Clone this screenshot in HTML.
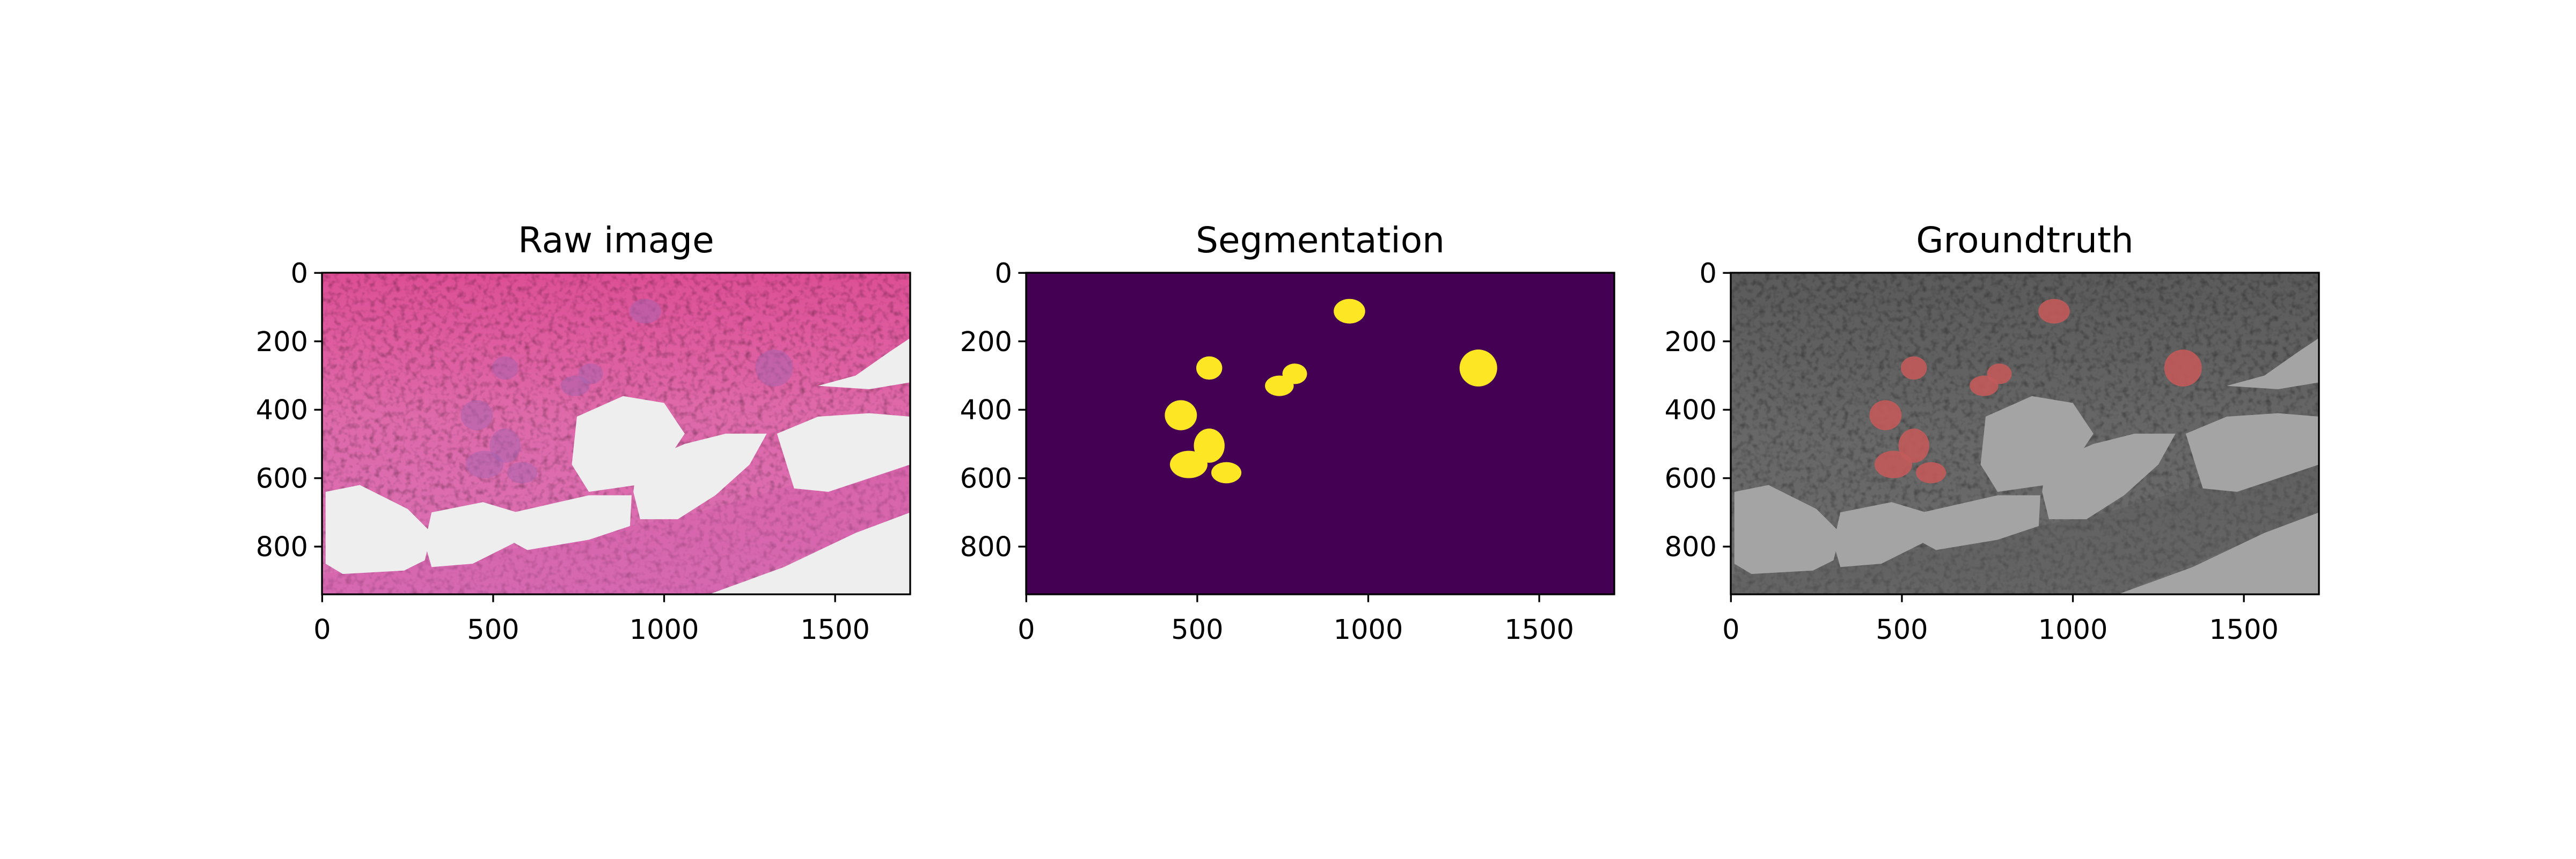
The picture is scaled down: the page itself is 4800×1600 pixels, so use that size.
<!DOCTYPE html>
<html><head><meta charset="utf-8"><style>
html,body{margin:0;padding:0;background:#fff;}
svg{display:block;}
text{font-family:"DejaVu Sans","Liberation Sans",sans-serif;fill:#000;}
</style></head><body>
<svg id="fig" width="4800" height="1600" viewBox="0 0 4800 1600" xmlns="http://www.w3.org/2000/svg">
<defs>
<filter id="tex" x="0" y="0" width="1" height="1">
<feTurbulence type="fractalNoise" baseFrequency="0.09" numOctaves="2" seed="3" result="n"/>
<feColorMatrix in="n" type="matrix" values="0 0 0 0 0  0 0 0 0 0  0 0 0 0 0  0 0 0 1.2 -0.55" result="a"/>
<feComposite in="a" in2="SourceGraphic" operator="in" result="m"/>
<feMerge><feMergeNode in="SourceGraphic"/><feMergeNode in="m"/></feMerge>
</filter>
<linearGradient id="rawGrad" x1="0" y1="0" x2="0" y2="1">
<stop offset="0" stop-color="#dd4f95"/><stop offset="0.45" stop-color="#de6aaa"/><stop offset="1" stop-color="#d870b4"/>
</linearGradient>
<linearGradient id="grayGrad" x1="0" y1="0" x2="0" y2="1">
<stop offset="0" stop-color="#5a5a5a"/><stop offset="0.45" stop-color="#666"/><stop offset="1" stop-color="#6c6c6c"/>
</linearGradient>
<clipPath id="clip0"><rect x="600" y="508" width="1096" height="599"/></clipPath>
<clipPath id="clip1"><rect x="1912" y="508" width="1096" height="599"/></clipPath>
<clipPath id="clip2"><rect x="3225" y="508" width="1096" height="599"/></clipPath>
</defs>
</svg>
<script>
// image extent (pixels of source image)
const imgW = 1720, imgH = 940;
const xTicks = [0, 500, 1000, 1500];
const yTicks = [0, 200, 400, 600, 800];
const titles = ["Raw image", "Segmentation", "Groundtruth"];
// segmentation blobs: centre x, centre y, radius x, radius y (image pixels)
const blobCx = [945, 535, 740, 785, 1322, 452, 535, 475, 585];
const blobCy = [112, 278, 330, 295, 278, 416, 505, 560, 584];
const blobRx = [46, 38, 42, 36, 55, 47, 45, 55, 44];
const blobRy = [36, 34, 30, 30, 54, 44, 50, 40, 31];
// lumen (empty space) polygons, image pixel coords
const lumens = [
 [[10,640],[110,620],[250,690],[320,760],[300,840],[240,870],[60,880],[10,850]],
 [[320,700],[470,670],[570,700],[560,790],[440,850],[320,860],[300,790]],
 [[560,700],[780,650],[905,650],[900,740],[780,780],[600,810],[545,780]],
 [[745,420],[880,360],[1000,380],[1060,470],[1000,560],[920,620],[780,640],[730,560]],
 [[920,560],[1060,500],[1180,470],[1300,470],[1250,560],[1150,650],[1040,720],[930,720],[910,640]],
 [[1330,470],[1450,420],[1600,410],[1720,420],[1720,560],[1600,600],[1480,640],[1380,630]],
 [[1450,330],[1560,300],[1660,230],[1720,190],[1720,320],[1600,340]],
 [[1130,940],[1350,860],[1560,760],[1720,700],[1720,940]]
];
const axLeft = [600, 1912, 3225], axTop = 508, axW = 1096, axH = 599;
const NS = "http://www.w3.org/2000/svg";
const fig = document.getElementById('fig');
function mk(tag, attrs, parent){const e=document.createElementNS(NS,tag);for(const k in attrs)e.setAttribute(k,attrs[k]);(parent||fig).appendChild(e);return e;}
function sx(i,v){return axLeft[i] + (v+0.5)*axW/imgW;}
function sy(v){return axTop + (v+0.5)*axH/imgH;}
function poly(i,pts){return pts.map(p=>sx(i,p[0]).toFixed(1)+","+sy(p[1]).toFixed(1)).join(" ");}

for (let i=0;i<3;i++){
  const g = mk('g',{});
  
  
  const img = mk('g',{'clip-path':'url(#clip'+i+')'},g);
  
  
  if (i===1){
    mk('rect',{x:axLeft[i],y:axTop,width:axW,height:axH,fill:'#440154'},img);
    for (let b=0;b<blobCx.length;b++){
      const e = mk('ellipse',{cx:sx(i,blobCx[b]),cy:sy(blobCy[b]),rx:blobRx[b]*axW/imgW,ry:blobRy[b]*axH/imgH,fill:'#fde725'},img);
      
      
    }
  } else {
    const raw = i===0;
    mk('rect',{x:axLeft[i],y:axTop,width:axW,height:axH,fill:raw?'url(#rawGrad)':'url(#grayGrad)',filter:'url(#tex)'},img);
    // stroma band lower right
    mk('polygon',{points:poly(i,[[0,940],[0,880],[600,800],[1100,700],[1720,520],[1720,700],[1130,940]]),fill:raw?'#d25aa8':'#555',opacity:0.35},img);
    for (const L of lumens){
      const p = mk('polygon',{points:poly(i,L),fill:raw?'#eeeeee':'#a4a4a4'},img);
      
      
    }
    if (!raw){
      for (let b=0;b<blobCx.length;b++){
        const e = mk('ellipse',{cx:sx(i,blobCx[b]),cy:sy(blobCy[b]),rx:blobRx[b]*axW/imgW,ry:blobRy[b]*axH/imgH,fill:'#c25a5a',opacity:0.9},img);
        
        
      }
    } else {
      for (let b=0;b<blobCx.length;b++){
        mk('ellipse',{cx:sx(i,blobCx[b]),cy:sy(blobCy[b]),rx:blobRx[b]*axW/imgW,ry:blobRy[b]*axH/imgH,fill:'#a564b0',opacity:0.5},img);
      }
    }
  }
  const frame = mk('rect',{x:axLeft[i],y:axTop,width:axW,height:axH,fill:'none',stroke:'#000','stroke-width':3.3},g);
  
  
  const t = mk('text',{x:axLeft[i]+axW/2,y:470,'font-size':66,'text-anchor':'middle'},g);
  t.textContent = titles[i];
  
  
  for (const v of xTicks){
    const x = sx(i,v);
    mk('line',{x1:x,x2:x,y1:axTop+axH,y2:axTop+axH+14.6,stroke:'#000','stroke-width':3.3},g);
    const l = mk('text',{x:x,y:1190,'font-size':51,'text-anchor':'middle'},g);
    l.textContent = v;
    
    
  }
  for (const v of yTicks){
    const y = sy(v);
    mk('line',{x1:axLeft[i]-14.6,x2:axLeft[i],y1:y,y2:y,stroke:'#000','stroke-width':3.3},g);
    const l = mk('text',{x:axLeft[i]-26,y:y+18,'font-size':51,'text-anchor':'end'},g);
    l.textContent = v;
    
    
  }
}
</script>
</body></html>
